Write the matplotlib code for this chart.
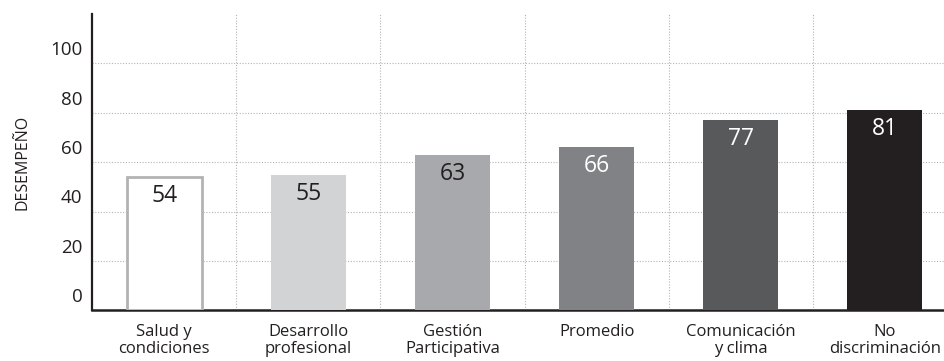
import numpy as np
import matplotlib
matplotlib.use("Agg")
import matplotlib.pyplot as plt
from matplotlib.transforms import offset_copy

plt.rcParams['font.family'] = ['Open Sans', 'DejaVu Sans']

categorias = ['Salud y\ncondiciones', 'Desarrollo\nprofesional', 'Gestión\nParticipativa',
              'Promedio', 'Comunicación\ny clima', 'No\ndiscriminación']
valores = [54, 55, 63, 66, 77, 81]
colores = ['#ffffff', '#d1d3d4', '#a7a9ac', '#808285', '#58595b', '#231f20']
color_texto = ['#231f20', '#231f20', '#231f20', 'white', 'white', 'white']
yticks = [0, 20, 40, 60, 80, 100]

fig = plt.figure(figsize=(9.44, 3.61), dpi=100)
ax = fig.add_axes([0.0975, 0.14, 0.9025, 0.821])

x = np.arange(len(categorias))
bars = ax.bar(x, valores, width=0.52, color=colores, zorder=3)
# the first bar is hollow with a grey outline
bars[0].set_edgecolor('#b3b3b3')
bars[0].set_linewidth(2)

for xi, v, c in zip(x, valores, color_texto):
    t = offset_copy(ax.transData, fig=fig, x=0, y=-5, units='points')
    ax.text(xi, v, str(v), ha='center', va='top', fontsize=16.5,
            color=c, transform=t, zorder=4)

ax.set_xlim(-0.5, 5.41)
ax.set_ylim(0, 120)

# horizontal dotted grid, vertical dotted separators between categories
for yv in yticks[1:]:
    ax.axhline(yv, color='#b5b5b5', lw=0.8, ls=(0, (1, 1.5)), zorder=1)
for xv in x[:-1] + 0.5:
    ax.axvline(xv, color='#b5b5b5', lw=0.8, ls=(0, (1, 1.5)), zorder=1)

# y labels sit just above their grid lines
ax.set_yticks([])
for yv in yticks:
    t = offset_copy(ax.get_yaxis_transform(), fig=fig, x=-7, y=9.5, units='points')
    ax.text(0, yv, str(yv), ha='right', va='center', fontsize=13.5,
            color='#231f20', transform=t)

ax.set_xticks(x)
ax.set_xticklabels(categorias, fontsize=12, color='#231f20', linespacing=1.08)
ax.tick_params(axis='x', length=0, pad=10)

ax.set_ylabel('DESEMPEÑO', fontsize=11.5, color='#231f20', labelpad=44)

for s in ['top', 'right']:
    ax.spines[s].set_visible(False)
ax.spines['left'].set_linewidth(1.6)
ax.spines['bottom'].set_linewidth(1.8)
ax.spines['left'].set_color('#231f20')
ax.spines['bottom'].set_color('#231f20')

fig.savefig('out.png', dpi=100)
